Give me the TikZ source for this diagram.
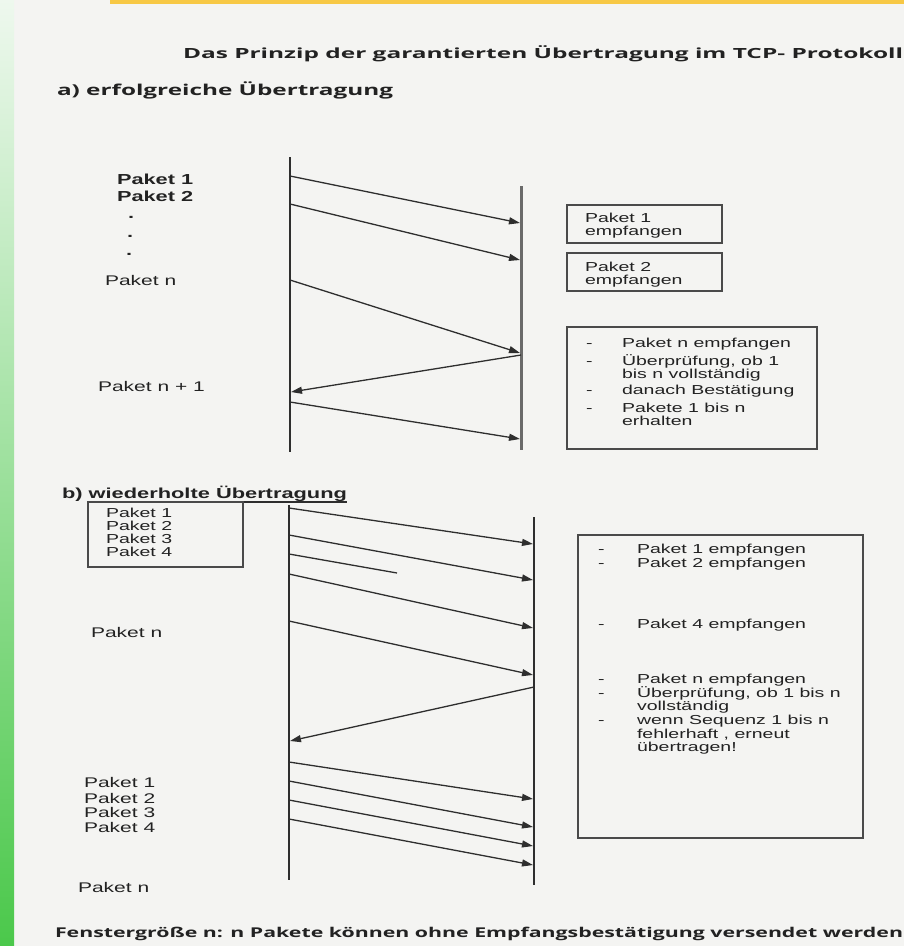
\documentclass[tikz,border=0pt]{standalone}
\usepackage{fontspec}
\usepackage{graphicx}
\usetikzlibrary{arrows.meta}
\newfontfamily\labfont{Liberation Sans}[FakeStretch=1.5]
\newfontfamily\headfont{Open Sans}
\newcommand\wfit[2]{\resizebox{#1}{\height}{#2}}
\definecolor{paper}{HTML}{F4F4F2}
\definecolor{ink}{HTML}{222222}
\definecolor{linec}{HTML}{2E2E2E}
\definecolor{greylife}{HTML}{6A6A6A}
\definecolor{boxc}{HTML}{4A4A4A}
\definecolor{gtop}{HTML}{EEF8EE}
\definecolor{gbot}{HTML}{4BC84B}
\definecolor{sun}{HTML}{F7C845}
\begin{document}
\begin{tikzpicture}[x=1pt,y=-1pt,
  every node/.style={inner sep=0pt, outer sep=0pt, text=ink},
  headb/.style={anchor=base west, font={\headfont\bfseries\fontsize{14}{16}\selectfont}},
  heada/.style={anchor=base west, font={\headfont\bfseries\fontsize{15}{17}\selectfont}},
  foot/.style={anchor=base west, font={\headfont\bfseries\fontsize{13.5}{15}\selectfont}},
  lab/.style={anchor=base west, font={\labfont\fontsize{14}{16}\selectfont}},
  labb/.style={anchor=base west, font={\labfont\bfseries\fontsize{14.5}{16}\selectfont}},
  boxtxt/.style={anchor=base west, font={\labfont\fontsize{13}{15}\selectfont}},
  frame/.style={draw=boxc, line width=1.6pt, anchor=north west, inner sep=0pt},
  life/.style={draw=linec, line width=2pt},
  lifeg/.style={draw=greylife, line width=3pt},
  msg/.style={draw=linec, line width=1.3pt, -{Triangle[length=11pt,width=7pt]}},
  plain/.style={draw=linec, line width=1.3pt},
]
\useasboundingbox (0,0) rectangle (904,946);
% background
\fill[paper] (0,0) rectangle (904,946);
\shade[top color=gtop, bottom color=gbot] (0,0) rectangle (14,946);
\fill[sun] (110,0) rectangle (904,4);

% headings
\node[headb] (title) at (183,58) {\wfit{720pt}{Das Prinzip der garantierten Übertragung im TCP- Protokoll}};
\node[heada] (ha) at (57,95) {\wfit{336pt}{a) erfolgreiche Übertragung}};
\node[labb] (hb) at (62,498) {\wfit{285pt}{b) wiederholte Übertragung}};
\coordinate (ul1) at (93,502);
\coordinate (ul2) at (347,502);
\draw[plain] (ul1) -- (ul2);
\node[foot] (foot) at (55,937) {\wfit{848pt}{Fenstergröße n: n Pakete können ohne Empfangsbestätigung versendet werden}};

% ---------- part a ----------
\coordinate (aLt) at (290,157); \coordinate (aLb) at (290,452);
\coordinate (aRt) at (521,186); \coordinate (aRb) at (521,450);
\draw[life] (aLt) -- (aLb);
\draw[lifeg] (aRt) -- (aRb);

\coordinate (a1s) at (290,176); \coordinate (a1e) at (520,223);
\coordinate (a2s) at (290,204); \coordinate (a2e) at (520,260);
\coordinate (a3s) at (290,280); \coordinate (a3e) at (520,353);
\coordinate (a4s) at (521,355); \coordinate (a4e) at (291,392);
\coordinate (a5s) at (290,402); \coordinate (a5e) at (520,439);
\draw[msg] (a1s) -- (a1e);
\draw[msg] (a2s) -- (a2e);
\draw[msg] (a3s) -- (a3e);
\draw[msg] (a4s) -- (a4e);
\draw[msg] (a5s) -- (a5e);

\node[labb] (p1) at (117,184) {Paket 1};
\node[labb] (p2) at (117,201) {Paket 2};
\node[labb] (d1) at (128,218) {.};
\node[labb] (d2) at (127,237) {.};
\node[labb] (d3) at (126,255) {.};
\node[lab] (pn) at (105,285) {Paket n};
\node[lab] (pn1) at (98,391) {Paket n + 1};

\node[frame, minimum width=155pt, minimum height=38pt] (ba1) at (567,205) {};
\node[boxtxt] (ba1t1) at (585,222) {Paket 1};
\node[boxtxt] (ba1t2) at (585,235) {empfangen};
\node[frame, minimum width=155pt, minimum height=38pt] (ba2) at (567,253) {};
\node[boxtxt] (ba2t1) at (585,271) {Paket 2};
\node[boxtxt] (ba2t2) at (585,284) {empfangen};
\node[frame, minimum width=250pt, minimum height=122pt] (ba3) at (567,327) {};
\node[boxtxt] (c1d) at (586,347) {-};
\node[boxtxt] (c1) at (622,347) {Paket n empfangen};
\node[boxtxt] (c2d) at (586,365) {-};
\node[boxtxt] (c2) at (622,365) {Überprüfung, ob 1};
\node[boxtxt] (c3) at (622,378) {bis n vollständig};
\node[boxtxt] (c4d) at (586,394) {-};
\node[boxtxt] (c4) at (622,394) {danach Bestätigung};
\node[boxtxt] (c5d) at (586,412) {-};
\node[boxtxt] (c5) at (622,412) {Pakete 1 bis n};
\node[boxtxt] (c6) at (622,425) {erhalten};

% ---------- part b ----------
\coordinate (bLt) at (289,505); \coordinate (bLb) at (289,880);
\coordinate (bRt) at (534,517); \coordinate (bRb) at (534,885);
\draw[life] (bLt) -- (bLb);
\draw[life] (bRt) -- (bRb);

\coordinate (b1s) at (289,508); \coordinate (b1e) at (533,544);
\coordinate (b2s) at (289,535); \coordinate (b2e) at (533,580);
\coordinate (b3s) at (289,554); \coordinate (b3e) at (397,573);
\coordinate (b4s) at (289,574); \coordinate (b4e) at (533,628);
\coordinate (b5s) at (289,621); \coordinate (b5e) at (533,675);
\coordinate (b6s) at (534,687); \coordinate (b6e) at (290,741);
\coordinate (b7s) at (289,762); \coordinate (b7e) at (533,799);
\coordinate (b8s) at (289,781); \coordinate (b8e) at (533,827);
\coordinate (b9s) at (289,800); \coordinate (b9e) at (533,846);
\coordinate (b10s) at (289,819); \coordinate (b10e) at (533,865);
\draw[msg] (b1s) -- (b1e);
\draw[msg] (b2s) -- (b2e);
\draw[plain] (b3s) -- (b3e);
\draw[msg] (b4s) -- (b4e);
\draw[msg] (b5s) -- (b5e);
\draw[msg] (b6s) -- (b6e);
\draw[msg] (b7s) -- (b7e);
\draw[msg] (b8s) -- (b8e);
\draw[msg] (b9s) -- (b9e);
\draw[msg] (b10s) -- (b10e);

\node[frame, minimum width=155pt, minimum height=65pt] (bb1) at (88,502) {};
\node[boxtxt] (q1) at (106,517) {Paket 1};
\node[boxtxt] (q2) at (106,530) {Paket 2};
\node[boxtxt] (q3) at (106,543) {Paket 3};
\node[boxtxt] (q4) at (106,556) {Paket 4};
\node[lab] (qn) at (91,637) {Paket n};
\node[lab] (r1) at (84,787) {Paket 1};
\node[lab] (r2) at (84,803) {Paket 2};
\node[lab] (r3) at (84,817) {Paket 3};
\node[lab] (r4) at (84,832) {Paket 4};
\node[lab] (rn) at (78,892) {Paket n};

\node[frame, minimum width=285pt, minimum height=303pt] (bb2) at (578,535) {};
\node[boxtxt] (e1d) at (598,553) {-};
\node[boxtxt] (e1) at (637,553) {Paket 1 empfangen};
\node[boxtxt] (e2d) at (598,567) {-};
\node[boxtxt] (e2) at (637,567) {Paket 2 empfangen};
\node[boxtxt] (e3d) at (598,628) {-};
\node[boxtxt] (e3) at (637,628) {Paket 4 empfangen};
\node[boxtxt] (e4d) at (598,683) {-};
\node[boxtxt] (e4) at (637,683) {Paket n empfangen};
\node[boxtxt] (e5d) at (598,697) {-};
\node[boxtxt] (e5) at (637,697) {Überprüfung, ob 1 bis n};
\node[boxtxt] (e6) at (637,710) {vollständig};
\node[boxtxt] (e7d) at (598,724) {-};
\node[boxtxt] (e7) at (637,724) {wenn Sequenz 1 bis n};
\node[boxtxt] (e8) at (637,738) {fehlerhaft , erneut};
\node[boxtxt] (e9) at (637,751) {übertragen!};
\end{tikzpicture}
\end{document}
